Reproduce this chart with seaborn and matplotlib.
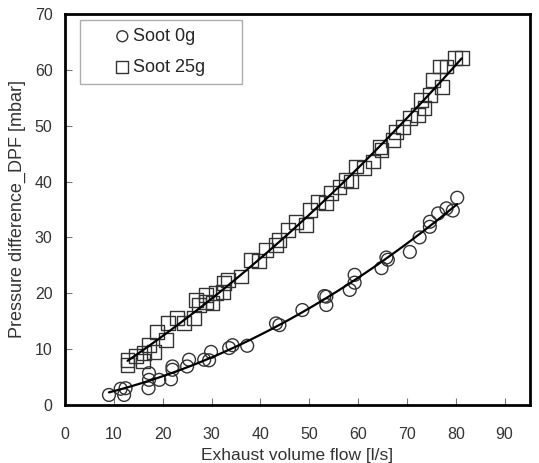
import numpy as np
import pandas as pd
import seaborn as sns
import matplotlib.pyplot as plt

# Soot 0g (circles)
flow_0g = [9.0, 12.1, 11.4, 12.4, 17.1, 17.2, 17.2, 19.3, 21.7, 22.0, 22.0, 25.0,
           25.4, 28.5, 29.5, 29.9, 33.6, 34.3, 37.3, 43.2, 43.9, 48.6, 53.5, 53.5,
           53.1, 58.3, 59.3, 59.3, 64.8, 66.1, 65.8, 70.6, 72.6, 74.7, 74.7, 76.4,
           78.1, 79.4, 80.3]
dp_0g = [1.8, 1.8, 2.9, 3.0, 3.0, 4.5, 5.7, 4.5, 4.6, 6.3, 6.9, 6.9,
         8.1, 8.1, 8.0, 9.5, 10.2, 10.7, 10.6, 14.6, 14.3, 17.0, 19.4, 17.9,
         19.5, 20.6, 23.3, 21.9, 24.5, 26.0, 26.4, 27.4, 30.0, 31.9, 32.8, 34.3,
         35.2, 34.8, 37.1]

# Soot 25g (squares)
flow_25g = [12.8, 12.8, 14.5, 15.9, 16.2, 18.3, 17.2, 18.9, 20.7, 21.0, 23.0, 24.4,
            26.5, 27.5, 28.9, 30.2, 32.3, 26.8, 28.9, 30.9, 32.6, 33.3, 36.0, 38.1,
            39.8, 41.2, 43.2, 43.9, 45.6, 47.3, 49.4, 50.1, 51.8, 53.5, 54.5, 56.2,
            57.6, 58.6, 59.6, 61.3, 63.0, 64.8, 64.4, 67.1, 67.8, 69.2, 70.6, 72.3,
            73.6, 72.9, 74.7, 77.1, 75.4, 76.7, 78.1, 79.8, 81.2]
dp_25g = [7.2, 8.1, 8.7, 7.8, 9.3, 9.5, 10.7, 13.1, 11.6, 14.6, 15.5, 14.6,
          15.5, 17.9, 18.5, 18.2, 20.3, 18.8, 19.7, 20.0, 21.8, 22.4, 23.0, 26.0,
          25.7, 27.7, 28.6, 29.5, 31.3, 32.8, 32.2, 34.9, 36.4, 36.1, 37.9, 39.1,
          40.3, 40.0, 42.7, 42.4, 43.6, 45.6, 46.2, 47.4, 48.9, 49.8, 51.3, 51.9,
          53.1, 54.6, 55.5, 57.0, 58.2, 60.6, 60.6, 62.1, 62.1]

df0 = pd.DataFrame({"flow": flow_0g, "dp": dp_0g})
df25 = pd.DataFrame({"flow": flow_25g, "dp": dp_25g})

sns.set_style("white")
plt.rcParams["font.family"] = ["Liberation Sans", "DejaVu Sans"]

fig = plt.figure(figsize=(5.39, 4.63), dpi=100)
ax = fig.add_axes([0.1206, 0.1253, 0.8627, 0.8445])

sns.scatterplot(data=df0, x="flow", y="dp", marker="o", s=85,
                facecolors="none", edgecolor="#333333", linewidth=1.0,
                label="Soot 0g", ax=ax, zorder=2)
sns.scatterplot(data=df25, x="flow", y="dp", marker="s", s=100,
                facecolors="none", edgecolor="#333333", linewidth=1.0,
                label="Soot 25g", ax=ax, zorder=2)

# quadratic trend lines
sns.regplot(data=df0, x="flow", y="dp", order=2, ci=None, scatter=False,
            color="black", line_kws={"linewidth": 1.6, "zorder": 3}, ax=ax)
sns.regplot(data=df25, x="flow", y="dp", order=2, ci=None, scatter=False,
            color="black", line_kws={"linewidth": 1.6, "zorder": 3}, ax=ax)

ax.set_xlim(0, 95.2)
ax.set_ylim(0, 70)
ax.set_xticks(np.arange(0, 100, 10))
ax.set_yticks(np.arange(0, 80, 10))
ax.tick_params(bottom=True, left=True, direction="in", length=5, width=0.8,
               colors="#777777", labelcolor="#333333", labelsize=11.5)
ax.tick_params(axis="x", pad=16)
ax.tick_params(axis="y", pad=9)

for sp in ax.spines.values():
    sp.set_linewidth(2.0)
    sp.set_color("black")

ax.set_xlabel("Exhaust volume flow [l/s]", fontsize=12.5, color="#333333", labelpad=4)
ax.set_ylabel("Pressure difference_DPF [mbar]", fontsize=13, color="#333333", labelpad=6)

leg = ax.legend(loc="upper left", bbox_to_anchor=(0.032, 0.824, 0.348, 0.161),
                mode="expand", borderaxespad=0, fontsize=13, handlelength=3.8,
                handletextpad=-1.3, labelspacing=0.75, fancybox=False,
                frameon=True, borderpad=0.45, markerscale=0.85)
leg.get_frame().set_edgecolor("#999999")
leg.get_frame().set_linewidth(1.0)

fig.savefig("out.png", dpi=100)
